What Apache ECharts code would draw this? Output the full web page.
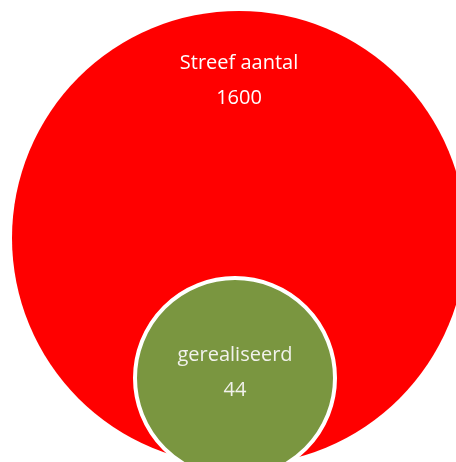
<!DOCTYPE html>
<html>
<head>
<meta charset="utf-8">
<script src="https://cdn.jsdelivr.net/npm/echarts@6/dist/echarts.min.js"></script>
<style>
html,body{margin:0;padding:0;background:#fff;}
#chart{width:456px;height:462px;}
</style>
</head>
<body>
<div id="chart"></div>
<script>
// data
var categories = ['Streef aantal', 'gerealiseerd'];
var values = [1600, 44];

// layout (bubble positions / sizes / styles)
var posX = [239, 235];
var posY = [224, 84];
var sizes = [454, 200];
var colors = ['#ff0000', '#7a9640'];
var textColors = ['#ffffff', '#f2f2ec'];
var labelOffsets = [[0, -157], [0, -5]];

var chart = echarts.init(document.getElementById('chart'), null, {renderer: 'canvas'});
var data = categories.map(function (c, i) {
  return {
    name: c,
    value: [posX[i], posY[i], values[i]],
    symbolSize: sizes[i],
    itemStyle: {
      color: colors[i],
      opacity: 1,
      borderColor: i === 1 ? '#ffffff' : 'transparent',
      borderWidth: i === 1 ? 4 : 0
    },
    label: {
      color: textColors[i],
      offset: labelOffsets[i]
    }
  };
});
chart.setOption({
  animation: false,
  grid: {left: 0, right: 0, top: 0, bottom: 0},
  xAxis: {type: 'value', min: 0, max: 456, show: false},
  yAxis: {type: 'value', min: 0, max: 462, show: false},
  series: [{
    type: 'scatter',
    clip: false,
    data: data,
    itemStyle: {opacity: 1},
    emphasis: {disabled: true},
    label: {
      show: true,
      position: 'inside',
      fontFamily: 'Open Sans',
      fontSize: 20,
      lineHeight: 35,
      formatter: function (p) { return p.name + '\n' + p.value[2]; }
    }
  }]
});
</script>
</body>
</html>
